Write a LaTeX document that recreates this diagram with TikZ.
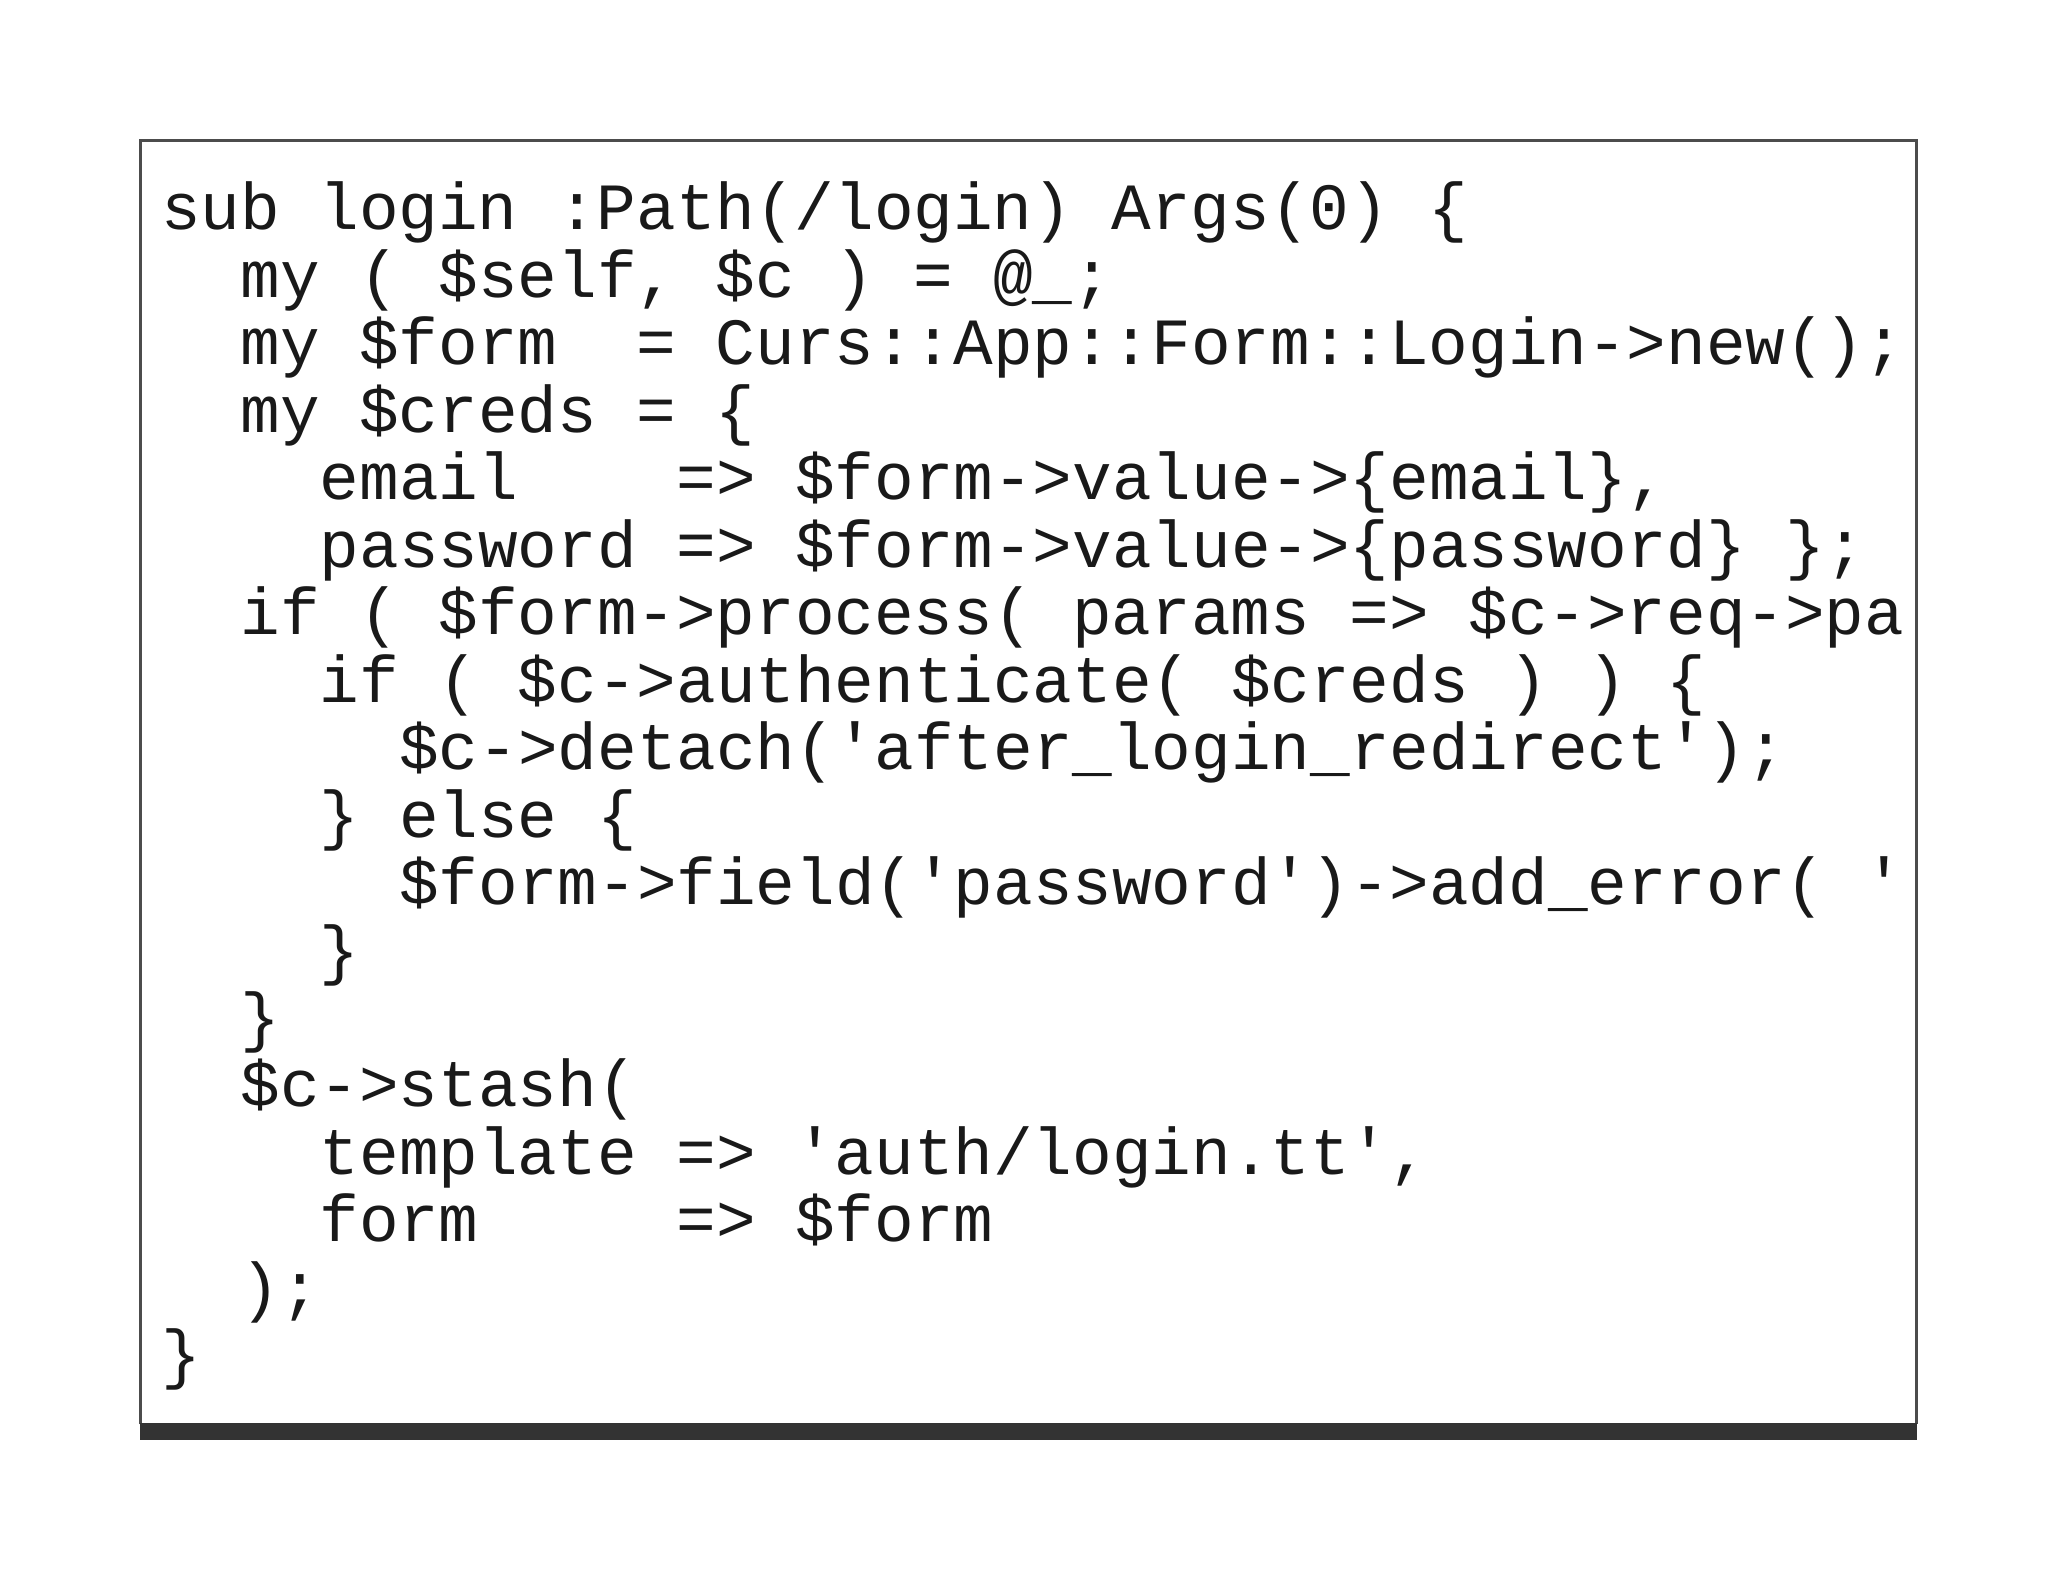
\documentclass[tikz,border=0pt]{standalone}
\usepackage{fontspec}
\newfontfamily\code{Liberation Mono}
\begin{document}
\begin{tikzpicture}[x=0.01cm,y=-0.01cm,
  ln/.style={anchor=base west,inner sep=0pt,font=\code\fontsize{14.3pt}{14.3pt}\selectfont,text=black!90}]
\useasboundingbox (0,0) rectangle (1560,1205);
\fill[white] (0,0) rectangle (1560,1205);
\draw[black!70,line width=0.6pt] (107,1085) -- (107,107) -- (1460,107) -- (1460,1085);
\fill[black!80] (107,1084) rectangle (1460,1097);
\def\cw{30.25}
\def\L#1#2#3{\node[ln] (l#1) at ({122+#2*\cw},{175+(#1-1)*51.4}) {#3};}
\L{1}{0}{sub~login~:Path(/login)~Args(0)~\{}
\L{2}{2}{my~(~\$self,~\$c~)~=~@\_;}
\L{3}{2}{my~\$form~~=~Curs::App::Form::Login->new();}
\L{4}{2}{my~\$creds~=~\{}
\L{5}{4}{email~~~~=>~\$form->value->\{email\},}
\L{6}{4}{password~=>~\$form->value->\{password\}~\};}
\L{7}{2}{if~(~\$form->process(~params~=>~\$c->req->pa}
\L{8}{4}{if~(~\$c->authenticate(~\$creds~)~)~\{}
\L{9}{6}{\$c->detach('after\_login\_redirect');}
\L{10}{4}{\}~else~\{}
\L{11}{6}{\$form->field('password')->add\_error(~'}
\L{12}{4}{\}}
\L{13}{2}{\}}
\L{14}{2}{\$c->stash(}
\L{15}{4}{template~=>~'auth/login.tt',}
\L{16}{4}{form~~~~~=>~\$form}
\L{17}{2}{);}
\L{18}{0}{\}}
\end{tikzpicture}
\end{document}
